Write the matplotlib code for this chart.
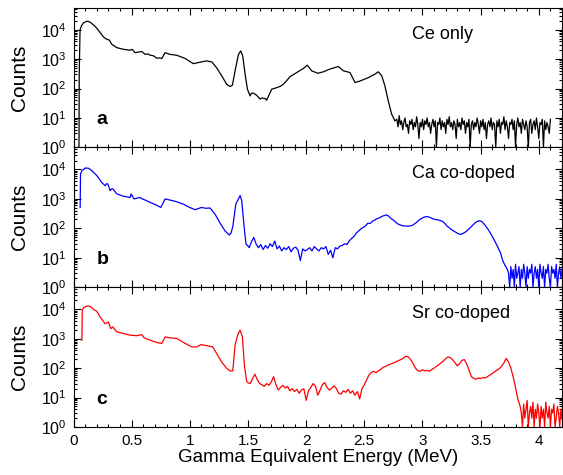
import matplotlib

matplotlib.use("Agg")
import matplotlib.pyplot as plt
import numpy as np
from matplotlib.ticker import LogLocator, MultipleLocator, NullFormatter

# --- Ce only (painel a) ---
ce_energy = [
    0.047, 0.049, 0.056, 0.070, 0.086, 0.115, 0.143, 0.186, 0.229, 0.258,
    0.286, 0.309, 0.320, 0.329, 0.372, 0.430, 0.487, 0.504, 0.530, 0.560,
    0.587, 0.616, 0.640, 0.659, 0.687, 0.716, 0.740, 0.759, 0.787, 0.830,
    0.888, 0.960, 1.030, 1.070, 1.110, 1.145, 1.190, 1.230, 1.274, 1.317,
    1.346, 1.366, 1.389, 1.418, 1.438, 1.455, 1.475, 1.495, 1.518, 1.530,
    1.547, 1.575, 1.590, 1.604, 1.620, 1.647, 1.660, 1.675, 1.704, 1.747,
    1.780, 1.804, 1.830, 1.862, 1.919, 1.976, 2.010, 2.047, 2.100, 2.148,
    2.205, 2.277, 2.320, 2.377, 2.420, 2.463, 2.535, 2.592, 2.620, 2.650,
    2.677, 2.706, 2.735, 2.763,
]
ce_counts = [
    1, 300, 10000, 14000, 17000, 19500, 18000, 13000, 8000, 5600,
    4700, 4400, 3600, 3200, 2450, 2150, 2000, 2150, 1650, 1750,
    1800, 1450, 1500, 1350, 1300, 1070, 1100, 1050, 1650, 1450,
    1350, 1050, 700, 760, 820, 870, 800, 510, 270, 140,
    117, 130, 400, 1450, 1900, 1260, 310, 95, 56, 70,
    69, 59, 50, 44, 48, 46, 40, 54, 95, 107,
    120, 140, 180, 255, 350, 480, 620, 400, 330, 370,
    460, 560, 400, 350, 160, 180, 235, 310, 370, 270,
    123, 38, 13.5, 8,
]
ce_tail_start = 2.78
ce_tail_step = 0.01
ce_tail_counts = [
    9, 5, 12, 6, 8, 4, 7, 10, 5, 6,
    3, 8, 6, 9, 4, 7, 5, 11, 6, 2,
    7, 5, 9, 4, 8, 6, 10, 5, 7, 3,
    6, 9, 5, 8, 1, 7, 6, 10, 4, 8,
    5, 7, 3, 9, 6, 11, 5, 7, 4, 8,
    6, 2, 9, 5, 7, 4, 10, 6, 8, 3,
    7, 5, 9, 1, 6, 8, 4, 7, 5, 10,
    6, 3, 8, 5, 9, 4, 7, 2, 6, 8,
    5, 10, 4, 7, 6, 1, 8, 5, 9, 3,
    7, 6, 11, 4, 8, 5, 2, 7, 6, 9,
    4, 8, 1, 6, 10, 5, 7, 3, 9, 6,
    4, 8, 5, 1, 7, 9, 3, 6, 8, 4,
    10, 5, 2, 7, 6, 9, 1, 8, 4, 7,
    5, 3, 9,
]

# --- Ca co-doped (painel b) ---
ca_energy = [
    0.057, 0.060, 0.072, 0.100, 0.129, 0.158, 0.200, 0.243, 0.272, 0.285,
    0.295, 0.315, 0.328, 0.338, 0.372, 0.430, 0.487, 0.495, 0.520, 0.572,
    0.590, 0.616, 0.673, 0.722, 0.750, 0.788, 0.830, 0.888, 0.945, 1.000,
    1.045, 1.100, 1.140, 1.174, 1.217, 1.260, 1.303, 1.320, 1.340, 1.355,
    1.370, 1.395, 1.418, 1.432, 1.446, 1.466, 1.483, 1.500,
]
ca_counts = [
    510, 7000, 9000, 11200, 11000, 9100, 6200, 3600, 2800, 3300,
    3200, 1900, 2200, 2200, 1480, 1230, 1120, 1480, 1000, 1120,
    1000, 910, 720, 590, 510, 1000, 910, 800, 660, 510,
    430, 510, 480, 490, 300, 150, 81, 70, 59, 70,
    120, 660, 1000, 1300, 870, 120, 29, 25,
]
ca_mid_start = 1.51
ca_mid_step = 0.02
ca_mid_counts = [
    22, 35, 49, 29, 22, 28, 19, 26, 21, 30,
    24, 37, 20, 25, 17, 22, 19, 24, 16, 21,
    23, 18, 8, 20, 17, 19, 22, 17, 24, 20,
    17, 22, 20, 24, 13, 18, 10, 22, 20, 25,
    26, 30, 28, 37, 45, 52, 68, 80, 95, 108,
    120, 150, 145, 175, 190, 215, 225, 255, 270, 285,
    260, 215, 190, 160, 140, 130, 122, 120, 118, 120,
    125, 140, 160, 190, 215, 235, 250, 245, 230, 210,
    200, 195, 185, 175, 150, 120, 105, 90, 80, 72,
    65, 62, 68, 75, 88, 105, 125, 150, 170, 182,
    170, 140, 110, 85, 62, 45, 32, 22, 15, 8,
    5.5, 4,
]
ca_tail_start = 3.74
ca_tail_step = 0.01
ca_tail_counts = [
    3, 1, 5, 2, 4, 1, 6, 2, 3, 5,
    1, 4, 2, 6, 3, 1, 5, 2, 4, 3,
    6, 1, 3, 5, 2, 4, 1, 6, 3, 2,
    5, 1, 4, 3, 6, 2, 1, 5, 3, 4,
    2, 6, 1, 3, 5, 2, 4,
]

# --- Sr co-doped (painel c) ---
sr_energy = [
    0.072, 0.075, 0.086, 0.115, 0.143, 0.172, 0.200, 0.229, 0.272, 0.300,
    0.320, 0.338, 0.372, 0.430, 0.487, 0.544, 0.587, 0.607, 0.659, 0.716,
    0.759, 0.788, 0.830, 0.888, 0.960, 1.017, 1.060, 1.097, 1.145, 1.197,
    1.230, 1.274, 1.317, 1.346, 1.369, 1.389, 1.412, 1.432, 1.452, 1.469,
    1.489,
]
sr_counts = [
    890, 9500, 11200, 12900, 12600, 10000, 8500, 5500, 3200, 3700,
    2200, 2500, 1700, 1500, 1320, 1260, 1380, 1070, 890, 740,
    690, 1150, 1070, 1020, 690, 525, 525, 630, 575, 525,
    315, 160, 98, 80, 80, 600, 1380, 1950, 1150, 125,
    35,
]
sr_mid_start = 1.50
sr_mid_step = 0.02
sr_mid_counts = [
    32, 30, 45, 62, 40, 30, 27, 24, 30, 26,
    34, 51, 28, 18, 22, 26, 21, 24, 17, 20,
    16, 19, 14, 18, 20, 8, 17, 22, 30, 24,
    12, 18, 28, 32, 22, 18, 21, 25, 20, 14,
    13, 17, 15, 19, 14, 17, 12, 16, 9, 20,
    27, 40, 58, 72, 78, 70, 80, 90, 105, 115,
    125, 135, 145, 155, 170, 185, 200, 225, 255, 240,
    190, 140, 100, 82, 78, 88, 80, 84, 78, 90,
    100, 115, 130, 150, 175, 210, 240, 225, 190, 150,
    120, 140, 185, 195, 140, 85, 52, 45, 42, 46,
    44, 48, 46, 52, 58, 66, 75, 85, 95, 115,
    150, 214, 160, 100, 50, 22, 9, 5,
]
sr_tail_start = 3.85
sr_tail_step = 0.01
sr_tail_counts = [
    3, 1, 6, 2, 4, 8, 1, 3, 5, 2,
    7, 1, 4, 2, 6, 3, 1, 5, 2, 4,
    1, 7, 3, 2, 5, 1, 4, 3, 6, 1,
    2, 5, 3, 1, 4, 2,
]

x_ticks = [0, 0.5, 1, 1.5, 2, 2.5, 3, 3.5, 4]
x_tick_labels = ["0", "0.5", "1", "1.5", "2", "2.5", "3", "3.5", "4"]
panel_titles = ["Ce only", "Ca co-doped", "Sr co-doped"]
panel_letters = ["a", "b", "c"]


def montar_espectro(energia, contagens, trechos):
    xs = [np.asarray(energia, dtype=float)]
    ys = [np.asarray(contagens, dtype=float)]
    for inicio, passo, valores in trechos:
        valores = np.asarray(valores, dtype=float)
        xs.append(inicio + passo * np.arange(len(valores)))
        ys.append(valores)
    return np.concatenate(xs), np.concatenate(ys)


def formatar_eixo(ax, mostrar_x):
    ax.set_yscale("log")
    ax.set_xlim(0, 4.2)
    ax.set_ylim(1, 10 ** 4.75)
    ax.set_xticks(x_ticks)
    ax.xaxis.set_minor_locator(MultipleLocator(0.1))
    ax.yaxis.set_major_locator(LogLocator(base=10, numticks=10))
    ax.yaxis.set_minor_locator(LogLocator(base=10, subs=np.arange(2, 10), numticks=20))
    ax.yaxis.set_minor_formatter(NullFormatter())
    ax.tick_params(which="both", direction="in", top=True, right=True, width=0.8)
    ax.tick_params(which="major", length=5, pad=5)
    ax.tick_params(axis="y", which="major", labelsize=11.5)
    ax.tick_params(axis="x", which="major", labelsize=11)
    ax.tick_params(which="minor", length=2.5)
    if mostrar_x:
        ax.set_xticklabels(x_tick_labels)
        ax.set_xlabel("Gamma Equivalent Energy (MeV)", fontsize=13.5, labelpad=1)
    else:
        ax.set_xticklabels([])
    ax.set_ylabel("Counts", fontsize=15)
    ax.yaxis.set_label_coords(-0.092, 0.5)
    for spine in ax.spines.values():
        spine.set_linewidth(0.8)


def main():
    plt.rcParams["font.family"] = ["Liberation Sans", "DejaVu Sans"]
    plt.rcParams["mathtext.fontset"] = "custom"
    plt.rcParams["mathtext.rm"] = "Liberation Sans"

    espectros = [
        (montar_espectro(ce_energy, ce_counts,
                         [(ce_tail_start, ce_tail_step, ce_tail_counts)]), "black"),
        (montar_espectro(ca_energy, ca_counts,
                         [(ca_mid_start, ca_mid_step, ca_mid_counts),
                          (ca_tail_start, ca_tail_step, ca_tail_counts)]), "#0000ff"),
        (montar_espectro(sr_energy, sr_counts,
                         [(sr_mid_start, sr_mid_step, sr_mid_counts),
                          (sr_tail_start, sr_tail_step, sr_tail_counts)]), "#ff0000"),
    ]

    fig = plt.figure(figsize=(5.63, 4.75), dpi=100)
    left, width, height = 0.1306, 0.8677, 0.2943
    bottoms = [0.6897, 0.3954, 0.1011]

    for i, ((x, y), cor) in enumerate(espectros):
        ax = fig.add_axes([left, bottoms[i], width, height])
        ax.plot(x, y, color=cor, lw=0.9)
        formatar_eixo(ax, mostrar_x=(i == 2))
        ax.text(0.692, 0.778, panel_titles[i], transform=ax.transAxes,
                fontsize=13, va="baseline", ha="left")
        ax.text(0.047, 0.167, panel_letters[i], transform=ax.transAxes,
                fontsize=14, fontweight="bold", va="baseline", ha="left")

    fig.savefig("out.png", dpi=100)
    plt.close(fig)


if __name__ == "__main__":
    main()
